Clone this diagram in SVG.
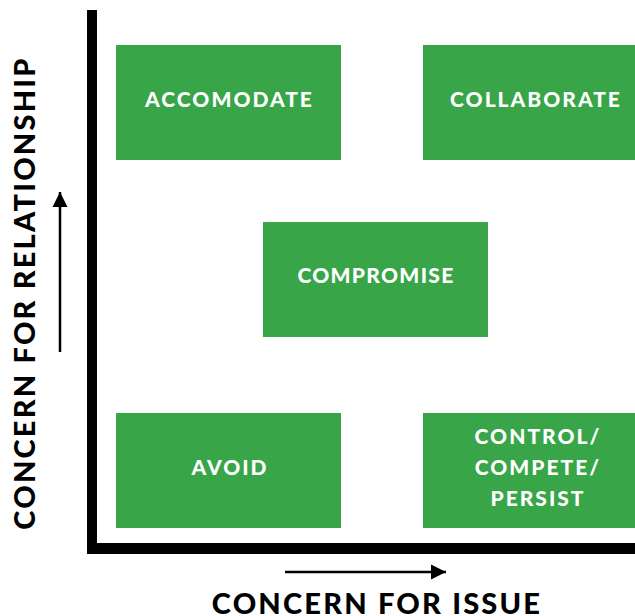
<svg xmlns="http://www.w3.org/2000/svg" width="635" height="616" viewBox="0 0 635 616">
  <style>
    .box { fill: #37a548; }
    .lbl { font-family: Lato, "Open Sans", sans-serif; font-weight: 900; font-size: 21px; letter-spacing: 2px; fill: #ffffff; text-anchor: middle; }
    .axis-title { font-family: Lato, "Open Sans", sans-serif; font-weight: 900; font-size: 29px; letter-spacing: 2.2px; fill: #000000; text-anchor: middle; }
    .axis { fill: #000000; }
    .arrow { stroke: #000000; stroke-width: 2.5; fill: none; }
  </style>
  <defs>
    <marker id="head" viewBox="0 0 10 10" refX="10" refY="5" markerWidth="6" markerHeight="8" markerUnits="strokeWidth" orient="auto">
      <path d="M0,0 L10,5 L0,10 Z" fill="#000000"/>
    </marker>
  </defs>

  <!-- axes -->
  <g id="axes">
    <rect class="axis" x="87" y="10" width="10" height="544"/>
    <rect class="axis" x="87" y="543" width="548" height="11"/>
  </g>

  <!-- direction arrows -->
  <g id="connectors">
    <line class="arrow" x1="60" y1="352" x2="60" y2="192" marker-end="url(#head)"/>
    <line class="arrow" x1="285" y1="572" x2="446" y2="572" marker-end="url(#head)"/>
  </g>

  <g id="accomodate">
    <rect class="box" x="116" y="45" width="225" height="115"/>
    <text class="lbl" x="229.5" y="107">ACCOMODATE</text>
  </g>
  <g id="collaborate">
    <rect class="box" x="423" y="45" width="212" height="115"/>
    <text class="lbl" x="536" y="107">COLLABORATE</text>
  </g>
  <g id="compromise">
    <rect class="box" x="263" y="222" width="225" height="115"/>
    <text class="lbl" x="376" y="283" style="letter-spacing:1.3px">COMPROMISE</text>
  </g>
  <g id="avoid">
    <rect class="box" x="116" y="413" width="225" height="115"/>
    <text class="lbl" x="230" y="475">AVOID</text>
  </g>
  <g id="control">
    <rect class="box" x="423" y="413" width="212" height="115"/>
    <text class="lbl" x="538" y="444">CONTROL/</text>
    <text class="lbl" x="538" y="475">COMPETE/</text>
    <text class="lbl" x="538" y="506">PERSIST</text>
  </g>

  <g id="axis-labels">
    <text class="axis-title" x="377" y="614">CONCERN FOR ISSUE</text>
    <text class="axis-title" transform="translate(35,293) rotate(-90)">CONCERN FOR RELATIONSHIP</text>
  </g>
</svg>
